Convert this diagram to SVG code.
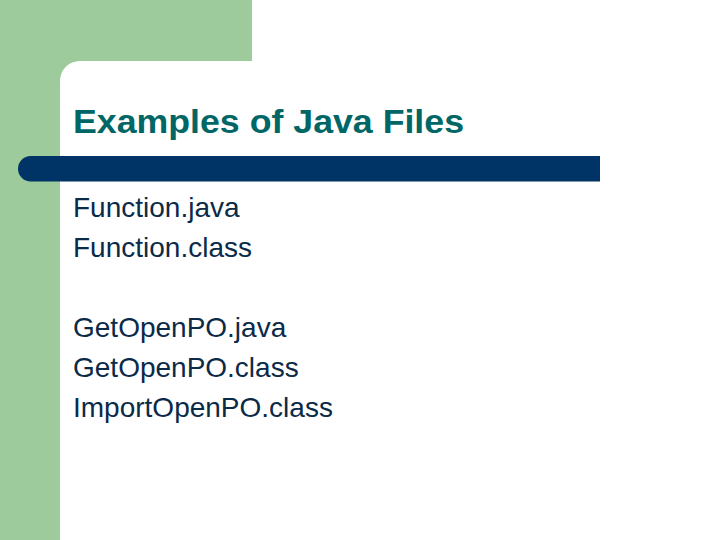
<svg xmlns="http://www.w3.org/2000/svg" width="720" height="540" viewBox="0 0 720 540">
  <style>
    .title { font-family: "Liberation Sans", Arial, sans-serif; font-weight: bold; font-size: 33px; fill: #006666; }
    .body { font-family: "Liberation Sans", Arial, sans-serif; font-size: 28px; fill: #0B2A48; }
  </style>
  <rect x="0" y="0" width="720" height="540" fill="#ffffff"/>
  <g id="background">
    <path d="M0,0 H252 V61 H80 A20,20 0 0 0 60,81 V540 H0 Z" fill="#9DCB9B"/>
    <path d="M30.75,156 H600 V181.5 H30.75 A12.75,12.75 0 0 1 30.75,156 Z" fill="#003366"/>
  </g>
  <g id="title">
    <text class="title" x="73" y="132.5" textLength="391" lengthAdjust="spacingAndGlyphs">Examples of Java Files</text>
  </g>
  <g id="body">
    <text class="body" x="73" y="216.5">Function.java</text>
    <text class="body" x="73" y="256.5">Function.class</text>
    <text class="body" x="73" y="336.5">GetOpenPO.java</text>
    <text class="body" x="73" y="376.5">GetOpenPO.class</text>
    <text class="body" x="73" y="416.5">ImportOpenPO.class</text>
  </g>
</svg>
